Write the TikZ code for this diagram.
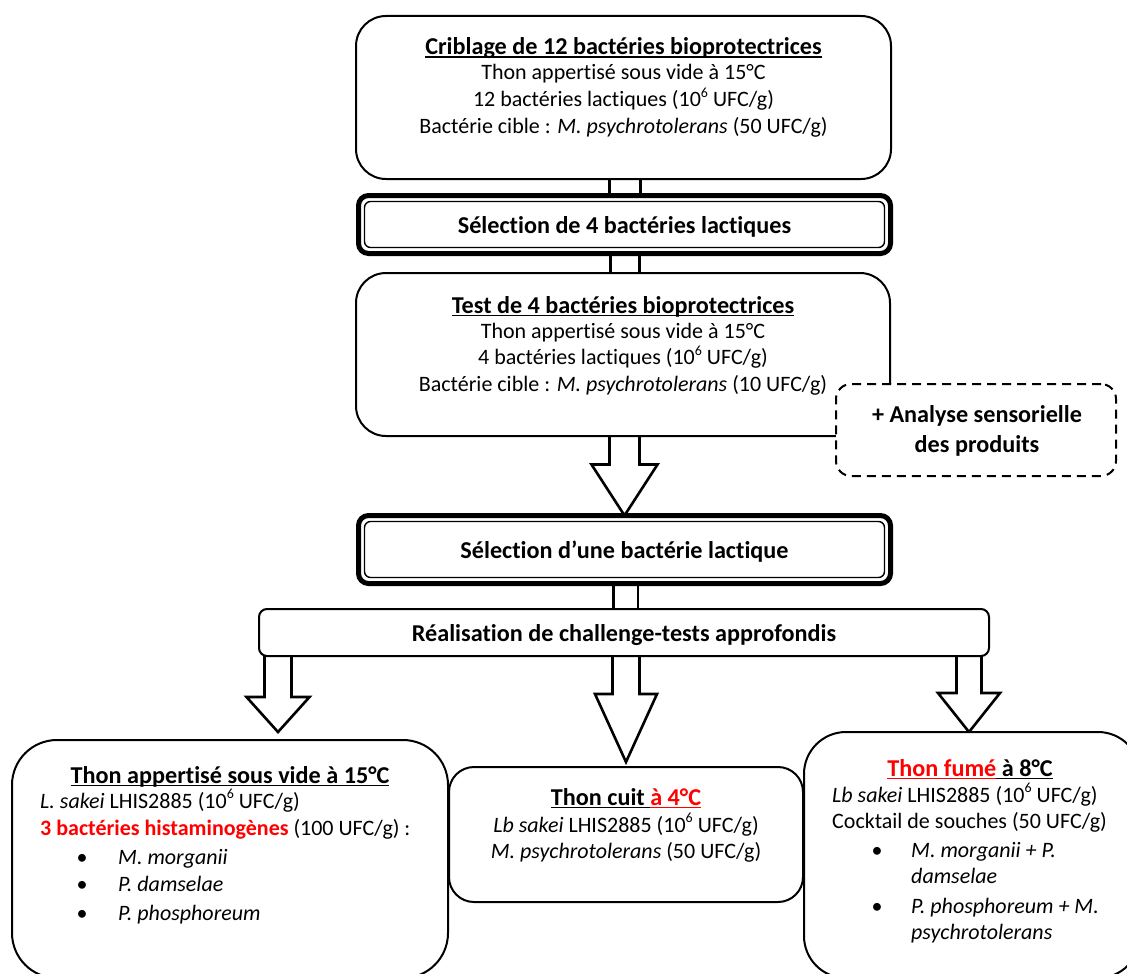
\documentclass[tikz,border=0pt]{standalone}
\usepackage{fontspec}
\setmainfont{Carlito}[Ligatures=NoCommon]
\usetikzlibrary{calc,backgrounds}
\newcommand\myul[1]{\setbox0\hbox{#1}\rlap{\rule[-3pt]{\wd0}{1.5pt}}\box0}
\newcommand\sx[1]{\raisebox{0.42em}{\fontsize{14}{14}\selectfont #1}}
\begin{document}
\begin{tikzpicture}[x=1pt,y=-1pt,
  box/.style={draw,line width=2pt,fill=white,rounded corners=#1,inner sep=0pt,outer sep=0pt},
  box/.default=30pt,
  selbox/.style={draw,line width=5pt,fill=white,rounded corners=10pt,inner sep=0pt,outer sep=0pt},
  selin/.style={draw,line width=1.4pt,rounded corners=6pt},
  dbox/.style={draw,line width=2pt,dash pattern=on 9pt off 6pt,fill=white,rounded corners=15pt,inner sep=0pt,outer sep=0pt},
  shaft/.style={draw,line width=3pt,fill=white},
  harrow/.style={draw,line width=2.6pt,fill=white,line join=miter,miter limit=10},
  t/.style={inner sep=0pt,anchor=base,font=\fontsize{22}{26.5}\selectfont},
  tb/.style={t,font=\fontsize{24.2}{29}\selectfont\bfseries},
  tl/.style={t,anchor=base west}]
\useasboundingbox (0,0) rectangle (1127,974);
\clip (0,0) rectangle (1127,974);
% boxes
\node[box, minimum width=535pt, minimum height=163pt] (A) at (623.5,97.5) {};
\node[selbox, minimum width=532pt, minimum height=58pt] (sel1) at (624.5,224.5) {};
\node[box, minimum width=534pt, minimum height=163pt] (B) at (623,354.5) {};
\node[dbox, minimum width=280pt, minimum height=92pt] (C) at (976,430) {};
\node[selbox, minimum width=532pt, minimum height=68pt] (sel2) at (624.5,549.5) {};
\node[box=8pt, minimum width=730pt, minimum height=47pt] (D) at (624,632.5) {};
\node[box=45pt, minimum width=436pt, minimum height=238pt] (E) at (230,859) {};
\node[box=25pt, minimum width=354pt, minimum height=135pt] (F) at (626,834.5) {};
\node[box=42pt, minimum width=336pt, minimum height=246pt] (G) at (972,855) {};
\draw[selin] ($(sel1.north west)+(6,6)$) rectangle ($(sel1.south east)+(-6,-6)$);
\draw[selin] ($(sel2.north west)+(6,6)$) rectangle ($(sel2.south east)+(-6,-6)$);
% tips of the lower arrows
\coordinate (tL) at (278,732);
\coordinate (tM) at (626,762);
\coordinate (tR) at (969,732);
% connectors
\begin{pgfonlayer}{background}
\fill[white] (0,0) rectangle (1127,974);
\draw[shaft] ($(A.south)+(-14,-6)$) rectangle ($(sel1.north)+(16,6)$);
\draw[shaft] ($(sel1.south)+(-14,-6)$) rectangle ($(B.north)+(16,6)$);
\draw[harrow] ($(B.south -| sel2.north)+(-15,-6)$) -- ($(sel2.north)+(-15,-51)$) -- ($(sel2.north)+(-33,-51)$) -- (sel2.north) -- ($(sel2.north)+(33,-51)$) -- ($(sel2.north)+(15,-51)$) -- ($(B.south -| sel2.north)+(15,-6)$);
\draw[harrow] ($(sel2.south)+(-11,-6)$) rectangle ($(D.north)+(14,6)$);
\draw[harrow] ($(D.south -| tL)+(-13.5,-6)$) -- ($(tL)+(-13.5,-35)$) -- ($(tL)+(-31.5,-35)$) -- (tL) -- ($(tL)+(31.5,-35)$) -- ($(tL)+(13.5,-35)$) -- ($(D.south -| tL)+(13.5,-6)$);
\draw[harrow] ($(D.south -| tM)+(-13.5,-6)$) -- ($(tM)+(-13.5,-68)$) -- ($(tM)+(-31,-68)$) -- (tM) -- ($(tM)+(31,-68)$) -- ($(tM)+(13.5,-68)$) -- ($(D.south -| tM)+(13.5,-6)$);
\draw[harrow] ($(D.south -| tR)+(-12.5,-6)$) -- ($(tR)+(-12.5,-39)$) -- ($(tR)+(-31,-39)$) -- (tR) -- ($(tR)+(31,-39)$) -- ($(tR)+(12.5,-39)$) -- ($(D.south -| tR)+(12.5,-6)$);
\end{pgfonlayer}
% texts
\node[tb] (A1) at (623.5,55) {\myul{Criblage de 12 bactéries bioprotectrices}};
\node[t] (A2) at (623.5,80) {Thon appertisé sous vide à 15°C};
\node[t] (A3) at (623.5,106.5) {12 bactéries lactiques (10\sx{6} UFC/g)};
\node[t] (A4) at (623.5,133) {Bactérie cible : \textit{M. psychrotolerans} (50 UFC/g)};
\node[tb] (S1) at (624.5,233) {Sélection de 4 bactéries lactiques};
\node[tb] (B1) at (623,313) {\myul{Test de 4 bactéries bioprotectrices}};
\node[t] (B2) at (623,338) {Thon appertisé sous vide à 15°C};
\node[t] (B3) at (623,364.5) {4 bactéries lactiques (10\sx{6} UFC/g)};
\node[t] (B4) at (623,391) {Bactérie cible : \textit{M. psychrotolerans} (10 UFC/g)};
\node[tb] (C1) at (977,422) {+ Analyse sensorielle};
\node[tb] (C2) at (977,452) {des produits};
\node[tb] (S2) at (624.5,558) {Sélection d’une bactérie lactique};
\node[tb] (D1) at (624,641) {Réalisation de challenge-tests approfondis};
\node[tb] (E1) at (230,783) {\myul{Thon appertisé sous vide à 15°C}};
\node[tl] (E2) at (40,808) {\textit{L. sakei} LHIS2885 (10\sx{6} UFC/g)};
\node[tl] (E3) at (40,835) {\textcolor{red}{\bfseries 3 bactéries histaminogènes} (100 UFC/g) :};
\node[t] (Eb1) at (82,864) {•};
\node[t] (Eb2) at (82,891) {•};
\node[t] (Eb3) at (82,920) {•};
\node[tl] (E4) at (118,864) {\textit{M. morganii}};
\node[tl] (E5) at (118,891) {\textit{P. damselae}};
\node[tl] (E6) at (118,920) {\textit{P. phosphoreum}};
\node[tb] (F1) at (626,805) {\myul{Thon cuit\ }{\color{red}\myul{à 4°C}}};
\node[t] (F2) at (626,832) {\textit{Lb sakei} LHIS2885 (10\sx{6} UFC/g)};
\node[t] (F3) at (626,858) {\textit{M. psychrotolerans} (50 UFC/g)};
\node[tb] (G1) at (970,776) {{\color{red}\myul{Thon fumé}}\myul{\ à 8°C}};
\node[tl] (G2) at (832,802) {\textit{Lb sakei} LHIS2885 (10\sx{6} UFC/g)};
\node[tl] (G3) at (832,828) {Cocktail de souches (50 UFC/g)};
\node[t] (Gb1) at (877,857) {•};
\node[t] (Gb2) at (877,913) {•};
\node[tl] (G4) at (911,857) {\textit{M. morganii + P.}};
\node[tl] (G5) at (911,883) {\textit{damselae}};
\node[tl] (G6) at (911,913) {\textit{P. phosphoreum + M.}};
\node[tl] (G7) at (911,939) {\textit{psychrotolerans}};
\end{tikzpicture}
\end{document}
